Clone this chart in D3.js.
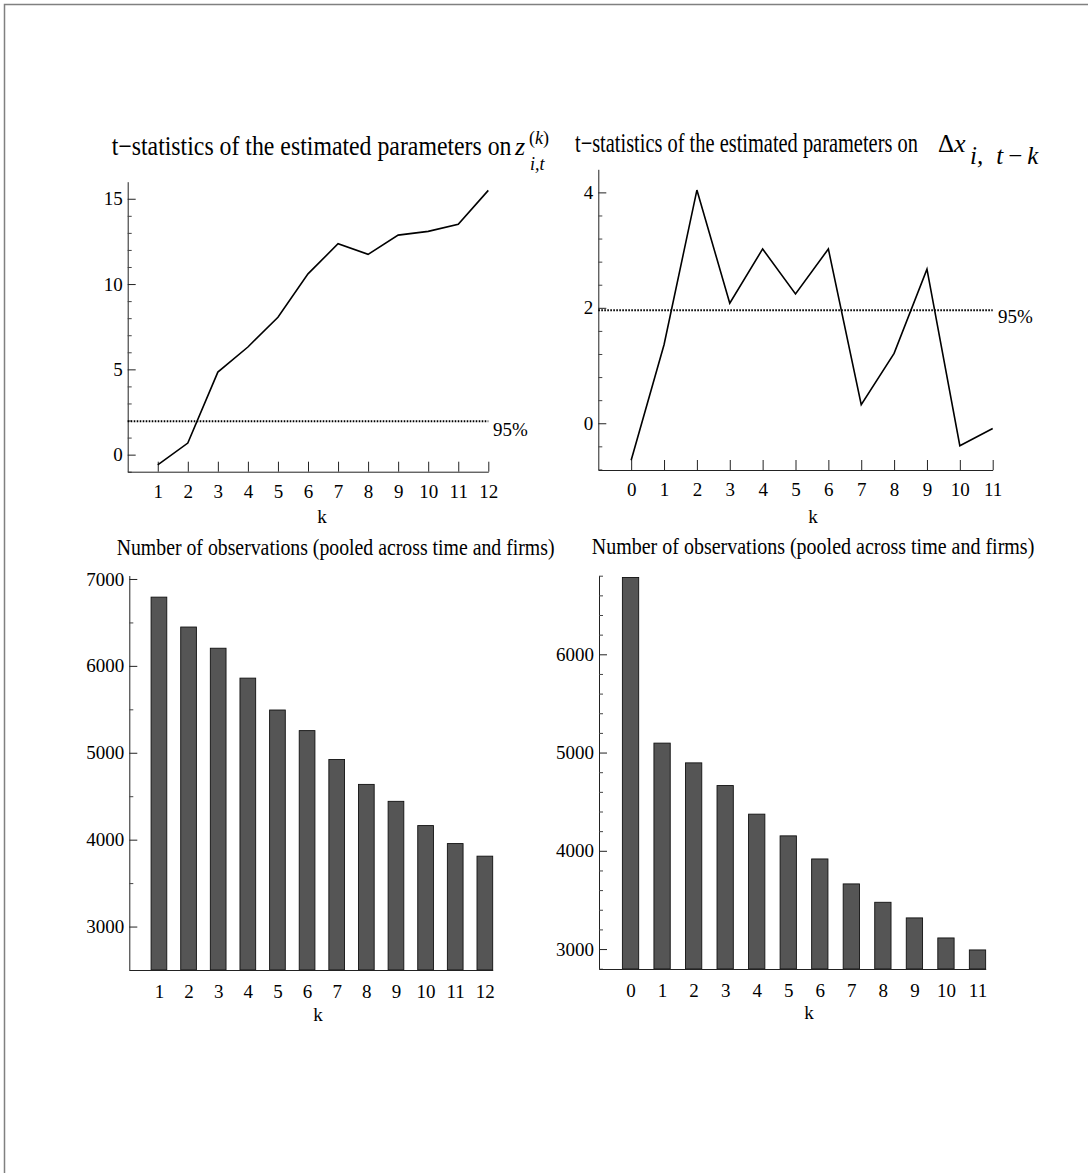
<!DOCTYPE html>
<html>
<head>
<meta charset="utf-8">
<script src="https://cdn.jsdelivr.net/npm/d3@7"></script>
<style>
    body { margin: 0; background: #fff; }
    svg text { font-family: "Liberation Serif", "Times New Roman", serif; fill: #000; }
    .axis path, .axis line { stroke: #222; }
    .minor line { stroke: #444; }
</style>
</head>
<body>
<div id="chart"></div>
<script>
// lags k
var lagsZ = [1, 2, 3, 4, 5, 6, 7, 8, 9, 10, 11, 12];
var lagsDx = [0, 1, 2, 3, 4, 5, 6, 7, 8, 9, 10, 11];

// t-statistics
var tstatZ = [-0.6, 0.68, 4.84, 6.31, 8.05, 10.6, 12.36, 11.74, 12.87, 13.09, 13.5, 15.49];
var tstatDx = [-0.64, 1.36, 4.04, 2.08, 3.02, 2.24, 3.02, 0.32, 1.21, 2.67, -0.39, -0.09];

// pooled observation counts (bottom panels)
var obsZ = [6791, 6447, 6203, 5859, 5492, 5255, 4922, 4636, 4441, 4162, 3955, 3810];
var obsDx = [6782, 5096, 4895, 4664, 4373, 4152, 3917, 3663, 3476, 3317, 3113, 2991];

var critValue = 1.96;
var critLabel = "95%";

var yTicksZ = [0, 5, 10, 15];
var yTicksDx = [0, 2, 4];
var yTicksObsZ = [3000, 4000, 5000, 6000, 7000];
var yTicksObsDx = [3000, 4000, 5000, 6000];

var titleT = "t\u2212statistics of the estimated parameters on";
var titleN = "Number of observations (pooled across time and firms)";
var xLabel = "k";

function init() {
    var w = 1088;
    var h = 1173;

    var svg = d3.select("#chart")
        .append("svg")
        .attr("width", w)
        .attr("height", h);

    // page frame (left and top edge only)
    svg.append("path")
        .attr("d", "M4.5," + h + "V4.5H" + w)
        .attr("fill", "none")
        .attr("stroke", "#808080")
        .attr("stroke-width", 1.5);

    linePanel(svg, {
        ks: lagsZ, values: tstatZ,
        xDomain: [0, 12], xRange: [127.7, 488.3],
        yDomain: [-1, 16], yRange: [471.7, 181.7],
        yTicks: yTicksZ, minorStep: 1,
        labelX: 493, labelDy: 15,
        kX: 322, kY: 523
    });

    linePanel(svg, {
        ks: lagsDx, values: tstatDx,
        xDomain: [-1, 11], xRange: [598.3, 992.7],
        yDomain: [-0.81, 4.4], yRange: [470, 169.3],
        yTicks: yTicksDx, minorStep: 0.4,
        labelX: 998, labelDy: 13,
        kX: 813, kY: 523
    });

    barPanel(svg, {
        ks: lagsZ, values: obsZ,
        xDomain: [0, 12.265], xRange: [129.3, 492.7], barW: 15.7,
        yDomain: [2500, 7040], yRange: [970, 575.5],
        yTicks: yTicksObsZ, minorStep: 500,
        kX: 318, kY: 1021
    });

    barPanel(svg, {
        ks: lagsDx, values: obsDx,
        xDomain: [-1, 11.26], xRange: [599, 985.7], barW: 16.3,
        yDomain: [2797, 6802], yRange: [969, 575.5],
        yTicks: yTicksObsDx, minorStep: 200,
        kX: 809, kY: 1019
    });

    // titles, squeezed horizontally like the original
    squeezedText(svg, titleT, 111.7, 155, 27, 400);
    svg.append("text").attr("x", 515).attr("y", 155)
        .attr("font-size", 26).attr("font-style", "italic").text("z");
    var sup = svg.append("text").attr("x", 529).attr("y", 144).attr("font-size", 18);
    sup.append("tspan").text("(");
    sup.append("tspan").attr("font-style", "italic").text("k");
    sup.append("tspan").text(")");
    svg.append("text").attr("x", 530).attr("y", 170)
        .attr("font-size", 18).attr("font-style", "italic").text("i,t");

    squeezedText(svg, titleT, 575, 152, 27, 343);
    svg.append("text").attr("x", 938).attr("y", 152)
        .attr("font-size", 25).text("\u0394");
    svg.append("text").attr("x", 954).attr("y", 152)
        .attr("font-size", 26).attr("font-style", "italic").text("x");
    var sub = svg.append("text").attr("x", 970).attr("y", 164)
        .attr("font-size", 25).attr("font-style", "italic");
    sub.append("tspan").text("i,");
    sub.append("tspan").attr("dx", 13).text("t");
    sub.append("tspan").attr("dx", 5).attr("font-style", "normal").text("\u2212");
    sub.append("tspan").attr("dx", 5).text("k");

    squeezedText(svg, titleN, 116.7, 555, 24, 438);
    squeezedText(svg, titleN, 591.7, 554, 24, 443);
}

function squeezedText(svg, str, x, y, size, width) {
    var t = svg.append("text")
        .attr("font-size", size)
        .text(str);
    var natural = t.node().getComputedTextLength();
    t.attr("transform", "translate(" + x + "," + y + ") scale(" + (width / natural) + ",1)");
    return t;
}

function yAxes(g, y, x0, p) {
    var yAxis = d3.axisLeft(y)
        .tickValues(p.yTicks)
        .tickFormat(d3.format("d"))
        .tickSize(-8)
        .tickSizeOuter(0)
        .tickPadding(5);
    g.append("g")
        .attr("class", "axis")
        .attr("transform", "translate(" + x0 + ",0)")
        .call(yAxis)
        .attr("font-size", 19);

    var lo = Math.ceil(p.yDomain[0] / p.minorStep) * p.minorStep;
    var minorVals = d3.range(lo, p.yDomain[1], p.minorStep).filter(function(v) {
        return p.yTicks.every(function(t) { return Math.abs(t - v) > 1e-6; });
    });
    g.append("g")
        .attr("class", "minor")
        .attr("transform", "translate(" + x0 + ",0)")
        .call(d3.axisLeft(y).tickValues(minorVals).tickSize(-4).tickSizeOuter(0).tickFormat(""))
        .select(".domain").remove();
}

function linePanel(svg, p) {
    var x = d3.scaleLinear().domain(p.xDomain).range(p.xRange);
    var y = d3.scaleLinear().domain(p.yDomain).range(p.yRange);
    var g = svg.append("g");

    yAxes(g, y, p.xRange[0], p);

    var xAxis = d3.axisBottom(x)
        .tickValues(p.ks)
        .tickFormat(d3.format("d"))
        .tickSize(-10)
        .tickSizeOuter(0)
        .tickPadding(13);
    g.append("g")
        .attr("class", "axis")
        .attr("transform", "translate(0," + p.yRange[0] + ")")
        .call(xAxis)
        .attr("font-size", 19);

    // 95% critical value
    g.append("line")
        .attr("x1", p.xRange[0])
        .attr("x2", x(p.ks[p.ks.length - 1]))
        .attr("y1", y(critValue))
        .attr("y2", y(critValue))
        .attr("stroke", "#000")
        .attr("stroke-width", 2)
        .attr("stroke-dasharray", "1.6,1.4");
    g.append("text")
        .attr("x", p.labelX)
        .attr("y", y(critValue) + p.labelDy)
        .attr("font-size", 19)
        .text(critLabel);

    var line = d3.line()
        .x(function(d, i) { return x(p.ks[i]); })
        .y(function(d) { return y(d); });
    g.append("path")
        .datum(p.values)
        .attr("d", line)
        .attr("fill", "none")
        .attr("stroke", "#000")
        .attr("stroke-width", 1.6);

    g.append("text")
        .attr("x", p.kX).attr("y", p.kY)
        .attr("text-anchor", "middle")
        .attr("font-size", 19)
        .text(xLabel);
}

function barPanel(svg, p) {
    var x = d3.scaleLinear().domain(p.xDomain).range(p.xRange);
    var y = d3.scaleLinear().domain(p.yDomain).range(p.yRange);
    var g = svg.append("g");

    g.selectAll("rect")
        .data(p.values)
        .enter()
        .append("rect")
        .attr("x", function(d, i) { return x(p.ks[i]) - p.barW / 2; })
        .attr("y", function(d) { return y(d); })
        .attr("width", p.barW)
        .attr("height", function(d) { return y(p.yDomain[0]) - y(d); })
        .attr("fill", "#555")
        .attr("stroke", "#111")
        .attr("stroke-width", 0.9);

    yAxes(g, y, p.xRange[0], p);

    var xAxis = d3.axisBottom(x)
        .tickValues(p.ks)
        .tickFormat(d3.format("d"))
        .tickSize(0)
        .tickSizeOuter(0)
        .tickPadding(15);
    g.append("g")
        .attr("class", "axis")
        .attr("transform", "translate(0," + p.yRange[0] + ")")
        .call(xAxis)
        .attr("font-size", 19);

    g.append("text")
        .attr("x", p.kX).attr("y", p.kY)
        .attr("text-anchor", "middle")
        .attr("font-size", 19)
        .text(xLabel);
}

window.onload = init;
</script>
</body>
</html>
